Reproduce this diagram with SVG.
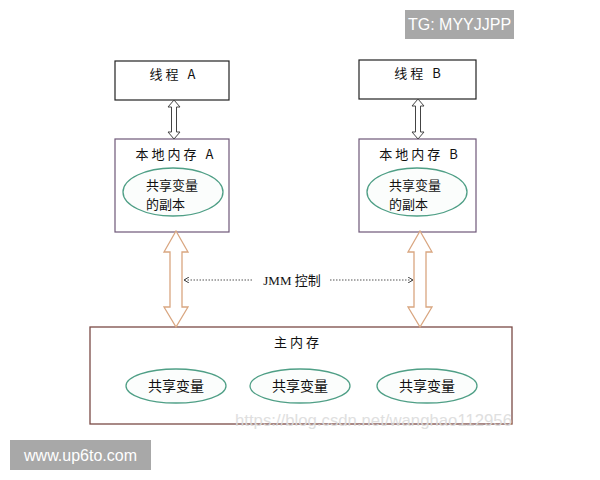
<svg xmlns="http://www.w3.org/2000/svg" width="600" height="480" viewBox="0 0 600 480">
<style>
.cn{font-family:"Noto Sans CJK SC","Liberation Sans",sans-serif;fill:#111}
.title{font-size:13px;letter-spacing:3px}
.ell{fill:#fbfdfc;stroke:#4f9f86;stroke-width:1.3}
.thread{fill:#fff;stroke:#222;stroke-width:1.2}
.local{fill:#fff;stroke:#6e5878;stroke-width:1.2}
.thin{fill:#fff;stroke:#444;stroke-width:1}
.big{fill:#fff;stroke:#d9a680;stroke-width:1.3}
.dot{stroke:#555;stroke-width:1.2;stroke-dasharray:1.5 1.5;fill:none}
.badge{fill:#a8a8a8}
.badgetxt{font-family:"Liberation Sans",Arial,sans-serif;font-size:16px;fill:#fff}
</style>
<defs>
<marker id="ah" markerWidth="6" markerHeight="6" refX="5" refY="3" orient="auto" markerUnits="userSpaceOnUse">
<path d="M0,0 L5,3 L0,6" fill="none" stroke="#444" stroke-width="1"/>
</marker>
</defs>
<rect width="600" height="480" fill="#fff"/>

<g id="threadA">
<rect class="thread" x="115" y="61" width="114" height="39"/>
<text class="cn title" x="174" y="79" text-anchor="middle">线程 A</text>
</g>
<g id="threadB">
<rect class="thread" x="359" y="60" width="117" height="39"/>
<text class="cn title" x="419" y="78" text-anchor="middle">线程 B</text>
</g>

<g id="localA">
<rect class="local" x="115" y="139" width="114" height="93"/>
<text class="cn title" x="176" y="159" text-anchor="middle">本地内存 A</text>
<ellipse class="ell" cx="173" cy="192" rx="50" ry="24"/>
<text class="cn" font-size="13" x="146" y="190">共享变量</text>
<text class="cn" font-size="13" x="146" y="209">的副本</text>
</g>
<g id="localB">
<rect class="local" x="359" y="139" width="117" height="93"/>
<text class="cn title" x="420" y="159" text-anchor="middle">本地内存 B</text>
<ellipse class="ell" cx="417" cy="192" rx="50" ry="24"/>
<text class="cn" font-size="13" x="389" y="190">共享变量</text>
<text class="cn" font-size="13" x="389" y="209">的副本</text>
</g>

<g id="mainMemory">
<rect x="90" y="327" width="422" height="97" fill="#fff" stroke="#7a4a46" stroke-width="1.3"/>
<text class="cn title" x="298" y="347" text-anchor="middle">主内存</text>
<ellipse class="ell" cx="176" cy="386" rx="50" ry="17"/>
<text class="cn" font-size="14" x="176" y="391" text-anchor="middle">共享变量</text>
<ellipse class="ell" cx="300" cy="386" rx="50" ry="17"/>
<text class="cn" font-size="14" x="300" y="391" text-anchor="middle">共享变量</text>
<ellipse class="ell" cx="427" cy="386" rx="50" ry="17"/>
<text class="cn" font-size="14" x="427" y="391" text-anchor="middle">共享变量</text>
<text x="235" y="426" font-family="Liberation Sans,Arial,sans-serif" font-size="17" fill="#dcdcdc" opacity="0.9" textLength="277" lengthAdjust="spacingAndGlyphs">https://blog.csdn.net/wanghao112956</text>
</g>

<g id="connectors">
<path class="thin" d="M174,100 L180,107 L176.5,107 L176.5,132 L180,132 L174,139 L168,132 L171.5,132 L171.5,107 L168,107 Z"/>
<path class="thin" d="M418,99 L424,106 L420.5,106 L420.5,132 L424,132 L418,139 L412,132 L415.5,132 L415.5,106 L412,106 Z"/>
<path class="big" d="M176,231 L188,252 L182,252 L182,307 L188,307 L176,327 L164,307 L170,307 L170,252 L164,252 Z"/>
<path class="big" d="M420,231 L432,252 L426,252 L426,307 L432,307 L420,327 L408,307 L414,307 L414,252 L408,252 Z"/>
<line class="dot" x1="252" y1="280" x2="184" y2="280" marker-end="url(#ah)"/>
<line class="dot" x1="330" y1="280" x2="413" y2="280" marker-end="url(#ah)"/>
<text x="292" y="285" text-anchor="middle" font-size="13" class="cn"><tspan font-family="Liberation Serif,serif">JMM </tspan>控制</text>
</g>

<g id="badges">
<rect class="badge" x="405" y="10" width="109" height="29"/>
<text class="badgetxt" x="459.5" y="30" text-anchor="middle">TG: MYYJJPP</text>
<rect class="badge" x="10" y="440" width="141" height="30"/>
<text class="badgetxt" x="80.5" y="461" text-anchor="middle">www.up6to.com</text>
</g>
</svg>
